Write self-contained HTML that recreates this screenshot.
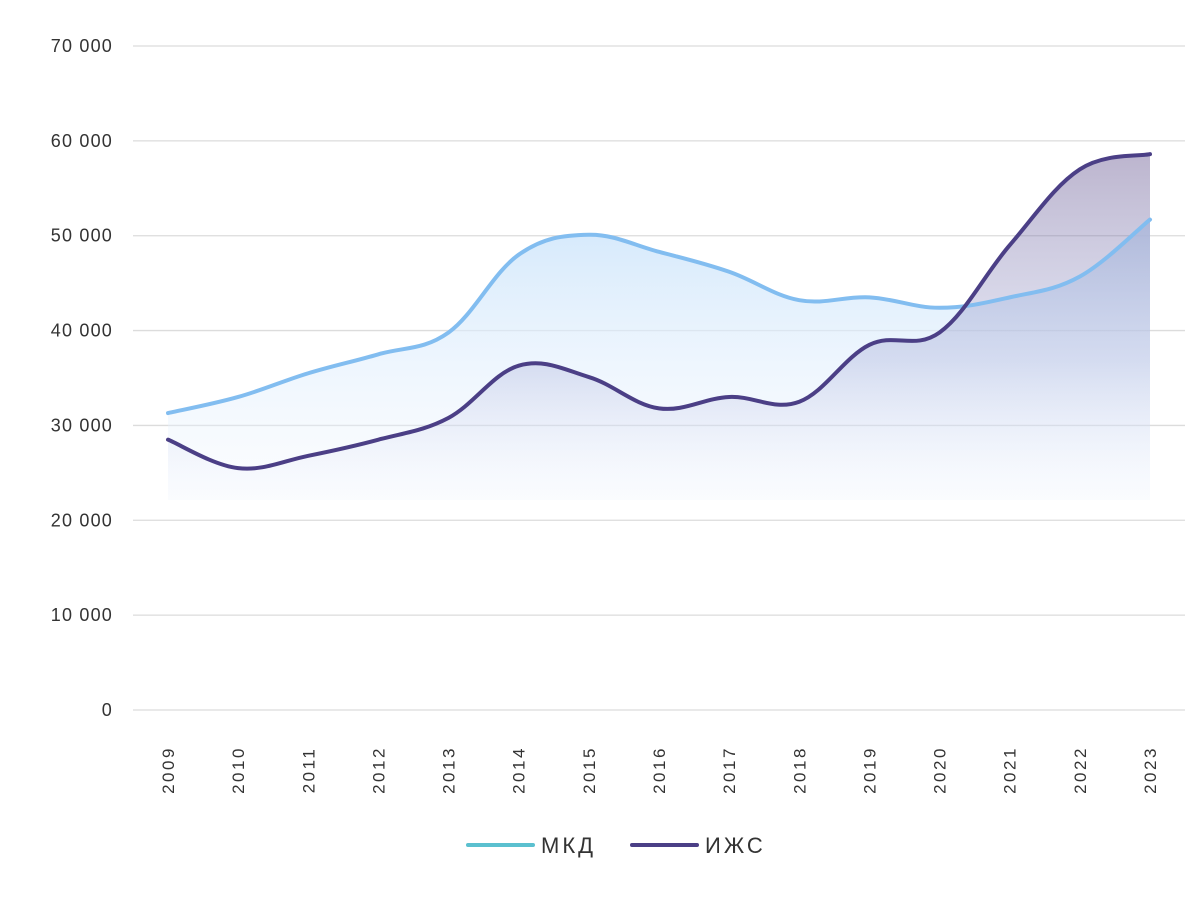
<!DOCTYPE html>
<html><head><meta charset="utf-8"><style>
body{margin:0;background:#fff;width:1200px;height:893px;overflow:hidden}
svg{font-family:"Liberation Sans",sans-serif}
</style></head><body>
<svg id="s" width="1200" height="893" xmlns="http://www.w3.org/2000/svg">
<defs>
<linearGradient id="gb" x1="0" y1="0" x2="0" y2="1" gradientUnits="objectBoundingBox">
<stop offset="0" stop-color="#cfe6fb" stop-opacity="0.9"/><stop offset="1" stop-color="#eef5fe" stop-opacity="0.2"/></linearGradient>
<linearGradient id="gp" x1="0" y1="0" x2="0" y2="1">
<stop offset="0" stop-color="#6a5a92" stop-opacity="0.45"/><stop offset="0.6" stop-color="#8a8fc8" stop-opacity="0.25"/><stop offset="1" stop-color="#dfe6fb" stop-opacity="0.05"/></linearGradient>
</defs>
<g id="grid"></g><g id="fills"></g><g id="lines"></g><g id="labels"></g>
<line x1="468" y1="845" x2="533" y2="845" stroke="#5bc0cf" stroke-width="4" stroke-linecap="round"/>
<text x="541" y="853" font-size="22" letter-spacing="3" fill="#333">МКД</text>
<line x1="632" y1="845" x2="697" y2="845" stroke="#4b3f86" stroke-width="4" stroke-linecap="round"/>
<text x="705" y="853" font-size="22" letter-spacing="3" fill="#333">ИЖС</text>
</svg>
<script>
var NS="http://www.w3.org/2000/svg";
function el(t,a,p,txt){var e=document.createElementNS(NS,t);for(var k in a)e.setAttribute(k,a[k]);if(txt)e.textContent=txt;document.getElementById(p).appendChild(e);return e;}
function Y(v){return 710-v*664/70000;}
function X(i){return 168+i*(982/14);}
var lab=["0","10 000","20 000","30 000","40 000","50 000","60 000","70 000"];
for(var i=0;i<8;i++){var y=Y(i*10000);el("line",{x1:133,x2:1185,y1:y,y2:y,stroke:"#dcdcdc","stroke-width":1.3},"grid");
el("text",{x:113,y:y+6,"text-anchor":"end","font-size":18,"letter-spacing":1.2,fill:"#333"},"labels",lab[i]);}
for(var i=0;i<15;i++){var x=X(i);el("text",{transform:"translate("+(x+6)+",770) rotate(-90)","text-anchor":"middle","font-size":17,"letter-spacing":2.5,fill:"#333"},"labels",String(2009+i));}
var m=[31300,33000,35500,37500,39800,48000,50100,48300,46200,43200,43500,42400,43500,45700,51700];
var z=[28500,25500,26800,28500,30800,36300,35100,31800,33000,32500,38500,39800,49000,57000,58600];
function path(d){var p=d.map(function(v,i){return[X(i),Y(v)]});var s="M"+p[0][0]+","+p[0][1];
for(var i=0;i<p.length-1;i++){var p0=p[i-1]||p[i],p1=p[i],p2=p[i+1],p3=p[i+2]||p2,t=0.18;
s+=" C"+(p1[0]+(p2[0]-p0[0])*t)+","+(p1[1]+(p2[1]-p0[1])*t)+" "+(p2[0]-(p3[0]-p1[0])*t)+","+(p2[1]-(p3[1]-p1[1])*t)+" "+p2[0]+","+p2[1];}return s;}
var pm=path(m),pz=path(z);
el("path",{d:pm+" L"+X(14)+",500 L"+X(0)+",500 Z",fill:"url(#gb)"},"fills");
el("path",{d:pz+" L"+X(14)+",500 L"+X(0)+",500 Z",fill:"url(#gp)"},"fills");
el("path",{d:pm,fill:"none",stroke:"#82bdf0","stroke-width":4,"stroke-linecap":"round"},"lines");
el("path",{d:pz,fill:"none",stroke:"#4b3f86","stroke-width":4,"stroke-linecap":"round"},"lines");
</script>
</body></html>
